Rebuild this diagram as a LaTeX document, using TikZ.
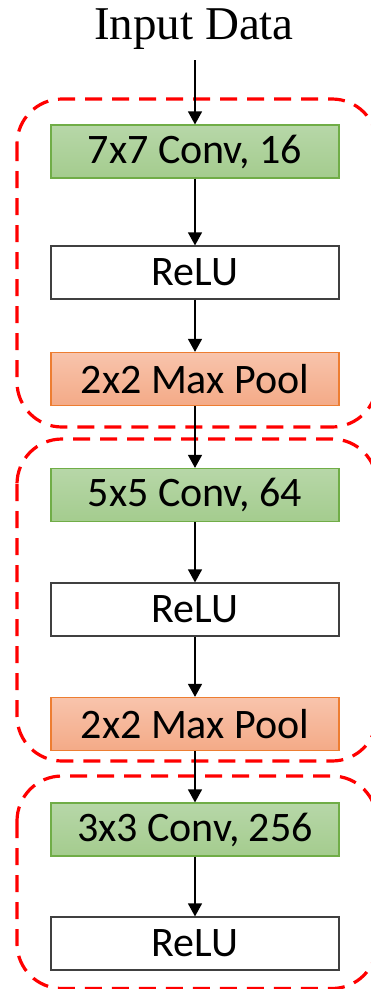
\documentclass[tikz,border=0pt]{standalone}
\usepackage{fontspec}
\setmainfont{Carlito}
\newfontfamily\titlefont{Liberation Serif}
\usetikzlibrary{arrows.meta}

\definecolor{convtop}{RGB}{183,215,168}
\definecolor{convbot}{RGB}{164,204,142}
\definecolor{convedge}{RGB}{112,173,71}
\definecolor{pooltop}{RGB}{248,196,172}
\definecolor{poolbot}{RGB}{244,170,135}
\definecolor{pooledge}{RGB}{237,125,49}
\definecolor{grpred}{RGB}{255,0,0}

\tikzset{
  layer/.style={minimum width=288pt, minimum height=53pt, inner sep=0pt,
    line width=1.2pt, font=\fontsize{42}{50}\selectfont},
  convbox/.style={layer, draw=convedge, top color=convtop, bottom color=convbot},
  relubox/.style={layer, draw=black!75, fill=white},
  poolbox/.style={layer, draw=pooledge, top color=pooltop, bottom color=poolbot},
  grp/.style={draw=grpred, line width=3.2pt, dash pattern=on 17pt off 10pt,
    rounded corners=45pt},
  flow/.style={draw=black, line width=1.2pt, -{Triangle[width=14pt,length=13pt]}},
}

\begin{document}
\begin{tikzpicture}[x=1pt,y=-1pt]
\useasboundingbox (0,0) rectangle (370,989);

% stage outlines (right side runs past the page edge)
\draw[grp] (17,99) rectangle (377,427);
\draw[grp] (17,439) rectangle (377,761);
\draw[grp] (17,776) rectangle (377,988.5);

% input label
\node[font=\titlefont\fontsize{47}{56}\selectfont, anchor=base, inner sep=0pt] (title) at (194,39) {Input Data};
\coordinate (src) at (195,60);

% layers
\node[convbox] (c1) at (195,151.5) {7x7 Conv, 16};
\node[relubox] (r1) at (195,272.5) {ReLU};
\node[poolbox] (p1) at (195,379) {2x2 Max Pool};
\node[convbox] (c2) at (195,495) {5x5 Conv, 64};
\node[relubox] (r2) at (195,609.5) {ReLU};
\node[poolbox] (p2) at (195,724) {2x2 Max Pool};
\node[convbox] (c3) at (195,829.5) {3x3 Conv, 256};
\node[relubox] (r3) at (195,943.5) {ReLU};

% data flow
\draw[flow] (src) -- (c1);
\draw[flow] (c1) -- (r1);
\draw[flow] (r1) -- (p1);
\draw[flow] (p1) -- (c2);
\draw[flow] (c2) -- (r2);
\draw[flow] (r2) -- (p2);
\draw[flow] (p2) -- (c3);
\draw[flow] (c3) -- (r3);
\end{tikzpicture}
\end{document}
